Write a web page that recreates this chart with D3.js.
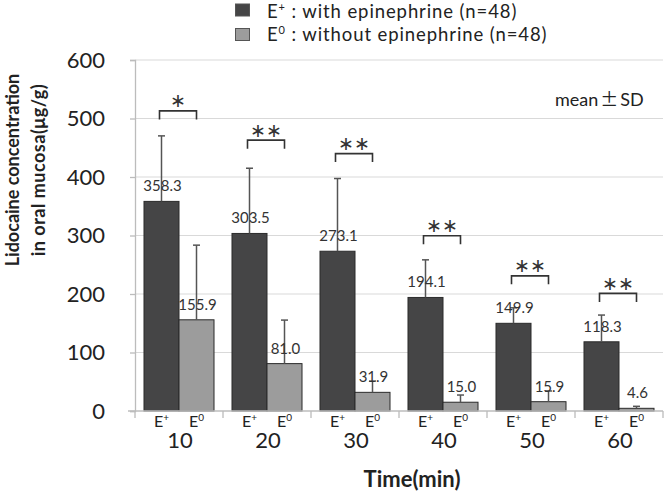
<!DOCTYPE html>
<html><head><meta charset="utf-8">
<script src="https://cdn.jsdelivr.net/npm/d3@7"></script>
<style>body{margin:0;background:#fff}svg{display:block}text{font-family:Lato,"Open Sans",sans-serif}</style>
</head><body>
<svg id="c" width="664" height="493"></svg>
<script>
const times = ["10","20","30","40","50","60"];
const groups = ["E+","E0"];
const meanEplus = [358.3, 303.5, 273.1, 194.1, 149.9, 118.3];
const meanE0 = [155.9, 81.0, 31.9, 15.0, 15.9, 4.6];
const sdEplus = [112, 111.5, 124.3, 64.3, 26.5, 45.7];
const sdE0 = [127.6, 74.4, 19.3, 12.3, 18.3, 3.4];
const sigLabels = ["*","**","**","**","**","**"];
const sigLevel = [513, 463, 440, 299.5, 231, 201];
const yTicks = [0,100,200,300,400,500,600];
const legendLabels = [["E","+"," : with epinephrine (n=48)"],["E","0"," : without epinephrine (n=48)"]];
const colors = {"E+":"#454546","E0":"#9c9c9c"};

const svg = d3.select("#c");
const L = 135, R = 663, T = 60, B = 411;
const x0 = d3.scaleBand().domain(times).range([L, R]).padding(0);
const x1 = d3.scaleBand().domain(groups).range([0, x0.bandwidth()]).paddingInner(0).paddingOuter(0.257);
const y = d3.scaleLinear().domain([0, 600]).range([B, T]);

// gridlines
svg.append("g").selectAll("line").data(yTicks.filter(d=>d>0)).join("line")
  .attr("x1", L).attr("x2", R).attr("y1", d=>y(d)).attr("y2", d=>y(d))
  .attr("stroke", "#d9d9d9").attr("stroke-width", 1.2);

// y axis
const yAxis = svg.append("g").attr("transform", `translate(${L},0)`)
  .call(d3.axisLeft(y).tickValues(yTicks).tickSize(5).tickPadding(25).tickFormat(d3.format("d")));
yAxis.select(".domain").attr("stroke", "#bcbcbc").attr("stroke-width", 1.3);
yAxis.selectAll(".tick line").attr("stroke", "#bcbcbc").attr("stroke-width", 1.3);
yAxis.selectAll(".tick text").attr("font-size", 22).attr("fill", "#222").attr("font-family","Lato");

// data rows
const rows = times.map((t,i)=>({t, vals:[
  {g:"E+", m:meanEplus[i], sd:sdEplus[i]},
  {g:"E0", m:meanE0[i], sd:sdE0[i]}]}));

const gg = svg.append("g").selectAll("g").data(rows).join("g")
  .attr("transform", d=>`translate(${x0(d.t)},0)`);

gg.selectAll("rect").data(d=>d.vals).join("rect")
  .attr("x", d=>x1(d.g)).attr("width", x1.bandwidth())
  .attr("y", d=>y(d.m)).attr("height", d=>B - y(d.m))
  .attr("fill", d=>colors[d.g]).attr("stroke", "#2a2a2a").attr("stroke-width", 1);

// error bars (upper only)
gg.selectAll("line.err").data(d=>d.vals).join("line").attr("class","err")
  .attr("x1", d=>x1(d.g)+x1.bandwidth()/2).attr("x2", d=>x1(d.g)+x1.bandwidth()/2)
  .attr("y1", d=>y(d.m)).attr("y2", d=>y(d.m+d.sd))
  .attr("stroke", "#555").attr("stroke-width", 1.5);
gg.selectAll("line.cap").data(d=>d.vals).join("line").attr("class","cap")
  .attr("x1", d=>x1(d.g)+x1.bandwidth()/2-3.5).attr("x2", d=>x1(d.g)+x1.bandwidth()/2+3.5)
  .attr("y1", d=>y(d.m+d.sd)).attr("y2", d=>y(d.m+d.sd))
  .attr("stroke", "#555").attr("stroke-width", 1.5);

// value labels
gg.selectAll("text.val").data(d=>d.vals).join("text").attr("class","val")
  .attr("x", d=>x1(d.g)+x1.bandwidth()/2+1).attr("y", d=>y(d.m)-10)
  .attr("text-anchor","middle").attr("font-size", 15).attr("fill","#333")
  .text(d=>d.m.toFixed(1));

// significance brackets
const sig = svg.append("g");
rows.forEach((r,i)=>{
  const xa = x0(r.t)+x1("E+")+x1.bandwidth()/2 - 2;
  const xb = x0(r.t)+x1("E0")+x1.bandwidth()/2;
  const yt = y(sigLevel[i]);
  sig.append("path").attr("d", `M${xa},${yt+8.5}V${yt}H${xb}V${yt+8.5}`)
    .attr("fill","none").attr("stroke","#333").attr("stroke-width",1.6);
  sig.append("text").attr("x",(xa+xb)/2).attr("y", yt-3.5)
    .attr("text-anchor","middle").attr("font-size",19).attr("font-family","DejaVu Sans")
    .attr("letter-spacing", 0.5).attr("fill","#333")
    .text(sigLabels[i].replace(/\*/g,"∗"));
});

// x axis
svg.append("line").attr("x1", L-7).attr("x2", R).attr("y1", B).attr("y2", B)
  .attr("stroke","#bcbcbc").attr("stroke-width",1.3);
const bounds = times.map(t=>x0(t)).concat([R]);
svg.append("g").selectAll("line").data(bounds).join("line")
  .attr("x1", d=>d).attr("x2", d=>d).attr("y1", B).attr("y2", B+7)
  .attr("stroke","#bcbcbc").attr("stroke-width",1.3);

// group sub-labels
rows.forEach(r=>{
  groups.forEach(g=>{
    const t = svg.append("text").attr("x", x0(r.t)+x1(g)+x1.bandwidth()/2).attr("y", 427)
      .attr("text-anchor","middle").attr("font-size",16).attr("fill","#222");
    t.append("tspan").text("E");
    t.append("tspan").attr("font-size",10).attr("dy",-6).text(g==="E+"?"+":"0");
  });
  svg.append("text").attr("x", x0(r.t)+x0.bandwidth()/2+1).attr("y", 448)
    .attr("text-anchor","middle").attr("font-size",22).attr("fill","#222").text(r.t);
});

// x title
svg.append("text").attr("x", 412).attr("y", 487).attr("text-anchor","middle")
  .attr("font-size",22).attr("font-weight","bold").attr("fill","#222").text("Time(min)");

// y title
const yt = svg.append("text").attr("transform","translate(0,170) rotate(-90)")
  .attr("text-anchor","middle").attr("font-weight","bold").attr("font-size",18).attr("fill","#222");
yt.append("tspan").attr("x",0).attr("y",19).text("Lidocaine concentration");
yt.append("tspan").attr("x",0).attr("y",45).attr("letter-spacing",0.5).text("in  oral mucosa(μg/g)");

// mean ± SD
const ms = svg.append("text").attr("x",555).attr("y",105.5).attr("font-size",18).attr("fill","#222");
ms.append("tspan").text("mean");
ms.append("tspan").attr("font-family","Noto Sans CJK JP").attr("dx",2).text("±");
ms.append("tspan").attr("dx",2).text("SD");

// legend
const leg = svg.append("g");
legendLabels.forEach((lab,i)=>{
  const ly = [18,41][i];
  leg.append("rect").attr("x",235.5).attr("y",ly-14+i*1.5).attr("width",14).attr("height",12)
    .attr("fill", colors[groups[i]]).attr("stroke","#555").attr("stroke-width",1);
  const t = leg.append("text").attr("x",267).attr("y",ly).attr("font-size",18.5)
    .attr("letter-spacing",0.9).attr("fill","#222");
  t.append("tspan").text(lab[0]);
  t.append("tspan").attr("font-size",11).attr("dy",-7).text(lab[1]);
  t.append("tspan").attr("dy",7).text(lab[2]);
});
</script>
</body></html>
